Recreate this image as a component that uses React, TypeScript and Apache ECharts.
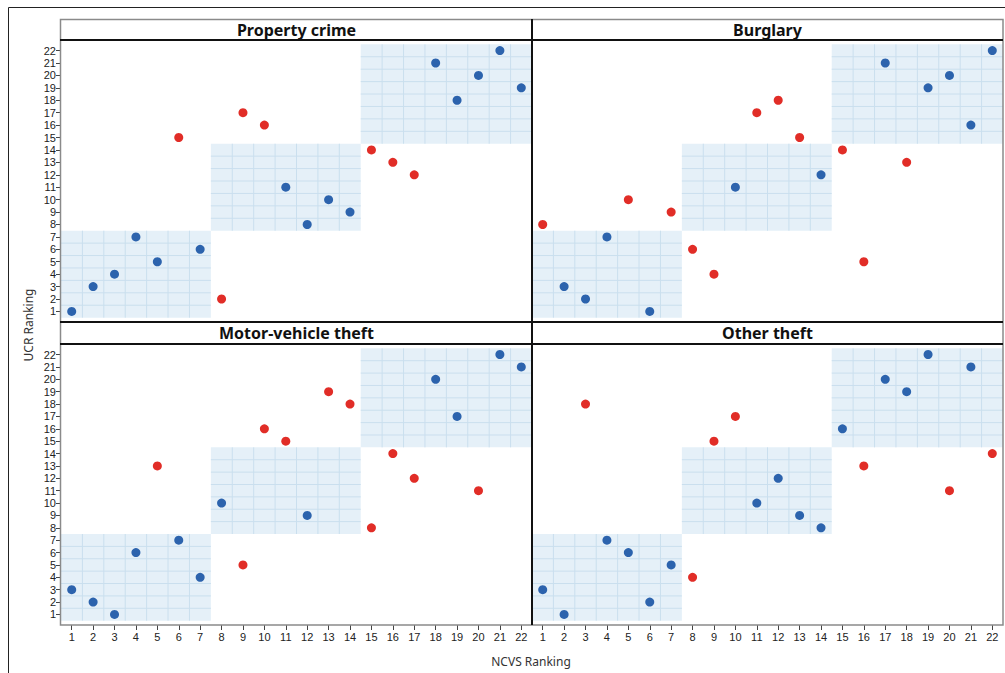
import React, { useEffect, useRef } from "react";
import * as echarts from "echarts";

// NCVS ranking (x) shared by every panel
const ncvsRanks = [1, 2, 3, 4, 5, 6, 7, 8, 9, 10, 11, 12, 13, 14, 15, 16, 17, 18, 19, 20, 21, 22];
const rankTicks = [1, 2, 3, 4, 5, 6, 7, 8, 9, 10, 11, 12, 13, 14, 15, 16, 17, 18, 19, 20, 21, 22];

// UCR ranking for each NCVS rank, one list per offence
const panelTitles = ["Property crime", "Burglary", "Motor-vehicle theft", "Other theft"];
const propertyUcr = [1, 3, 4, 7, 5, 15, 6, 2, 17, 16, 11, 8, 10, 9, 14, 13, 12, 21, 18, 20, 22, 19];
const burglaryUcr = [8, 3, 2, 7, 10, 1, 9, 6, 4, 11, 17, 18, 15, 12, 14, 5, 21, 13, 19, 20, 16, 22];
const motorVehicleUcr = [3, 2, 1, 6, 13, 7, 4, 10, 5, 16, 15, 9, 19, 18, 8, 14, 12, 20, 17, 11, 22, 21];
const otherTheftUcr = [3, 1, 18, 7, 6, 2, 5, 4, 15, 17, 10, 12, 9, 8, 16, 13, 20, 19, 22, 11, 21, 14];

// Rank groups (low / middle / high), drawn as shaded squares
const rankBlocks = [
  [0.5, 7.5],
  [7.5, 14.5],
  [14.5, 22.5],
];

const BLUE = "#2c63ad";
const RED = "#e12d27";
const FONT = "'Noto Sans', 'Open Sans', sans-serif";
const TICK_FONT = "'Liberation Sans', Arial, sans-serif";

const groupOf = (r: number) => rankBlocks.findIndex(([a, b]) => r > a && r < b);

function renderBlock(params: any, api: any) {
  const a = api.value(0);
  const b = api.value(1);
  const p0 = api.coord([a, a]);
  const p1 = api.coord([b, b]);
  const children: any[] = [
    {
      type: "rect",
      shape: { x: p0[0], y: p1[1], width: p1[0] - p0[0], height: p0[1] - p1[1] },
      style: { fill: "#e5f0f8" },
    },
  ];
  for (let v = a + 1; v < b; v += 1) {
    const px = api.coord([v, a])[0];
    const py = api.coord([a, v])[1];
    children.push({
      type: "line",
      shape: { x1: px, y1: p1[1], x2: px, y2: p0[1] },
      style: { stroke: "#cadfee", lineWidth: 1 },
    });
    children.push({
      type: "line",
      shape: { x1: p0[0], y1: py, x2: p1[0], y2: py },
      style: { stroke: "#cadfee", lineWidth: 1 },
    });
  }
  return { type: "group", children };
}

export default function App() {
  const ref = useRef<HTMLDivElement>(null);

  useEffect(() => {
    if (!ref.current) return;
    const chart = echarts.init(ref.current, undefined, { renderer: "svg" });

    const ucrLists = [propertyUcr, burglaryUcr, motorVehicleUcr, otherTheftUcr];
    const colLeft = [61, 532];
    const rowTop = [40, 344];
    const rowHeight = [282, 281];
    const panelWidth = 471;

    const grids: any[] = [];
    const xAxes: any[] = [];
    const yAxes: any[] = [];
    const series: any[] = [];

    ucrLists.forEach((ucr, i) => {
      const col = i % 2;
      const row = Math.floor(i / 2);
      grids.push({
        left: colLeft[col],
        top: rowTop[row],
        width: panelWidth,
        height: rowHeight[row],
        containLabel: false,
        outerBoundsMode: "none",
      });
      const showX = row === 1;
      const showY = col === 0;
      xAxes.push({
        type: "value",
        gridIndex: i,
        min: 0.5,
        max: 22.5,
        axisLine: { show: false },
        splitLine: { show: false },
        axisTick: {
          show: showX,
          customValues: rankTicks,
          length: 5,
          lineStyle: { color: "#444", width: 1 },
        },
        axisLabel: {
          show: showX,
          customValues: rankTicks,
          margin: 6,
          fontSize: 11,
          lineHeight: 12,
          color: "#222",
          fontFamily: TICK_FONT,
        },
      });
      yAxes.push({
        type: "value",
        gridIndex: i,
        min: 0.15,
        max: 22.85,
        axisLine: { show: false },
        splitLine: { show: false },
        axisTick: {
          show: showY,
          customValues: rankTicks,
          length: 5,
          lineStyle: { color: "#444", width: 1 },
        },
        axisLabel: {
          show: showY,
          customValues: rankTicks,
          margin: 5,
          fontSize: 11,
          lineHeight: 12,
          color: "#222",
          fontFamily: TICK_FONT,
        },
      });

      series.push({
        type: "custom",
        xAxisIndex: i,
        yAxisIndex: i,
        data: rankBlocks,
        renderItem: renderBlock,
        silent: true,
        z: 1,
      });

      const points = ncvsRanks.map((x, k) => [x, ucr[k]]);
      series.push({
        type: "scatter",
        name: "Same group",
        xAxisIndex: i,
        yAxisIndex: i,
        symbolSize: 9,
        itemStyle: { color: BLUE, opacity: 1 },
        data: points.filter(([x, y]) => groupOf(x) === groupOf(y)),
        z: 3,
      });
      series.push({
        type: "scatter",
        name: "Different group",
        xAxisIndex: i,
        yAxisIndex: i,
        symbolSize: 9,
        itemStyle: { color: RED, opacity: 1 },
        data: points.filter(([x, y]) => groupOf(x) !== groupOf(y)),
        z: 3,
      });
    });

    const headerY = [29.5, 333];
    const graphic: any[] = [
      // outer frame
      {
        type: "rect",
        shape: { x: 8.5, y: 7.5, width: 1010, height: 680 },
        style: { fill: "none", stroke: "#222", lineWidth: 1 },
        z: 10,
      },
      // panel frame
      {
        type: "rect",
        shape: { x: 60.5, y: 19.5, width: 942.5, height: 605.5 },
        style: { fill: "none", stroke: "#8a8a8a", lineWidth: 1.5 },
        z: 10,
      },
      // header separators
      {
        type: "line",
        shape: { x1: 60, y1: 40, x2: 1003, y2: 40 },
        style: { stroke: "#111", lineWidth: 2 },
        z: 11,
      },
      {
        type: "line",
        shape: { x1: 60, y1: 322, x2: 1003, y2: 322 },
        style: { stroke: "#111", lineWidth: 2 },
        z: 11,
      },
      {
        type: "line",
        shape: { x1: 60, y1: 344, x2: 1003, y2: 344 },
        style: { stroke: "#111", lineWidth: 2 },
        z: 11,
      },
      {
        type: "line",
        shape: { x1: 532, y1: 19, x2: 532, y2: 625 },
        style: { stroke: "#111", lineWidth: 2 },
        z: 11,
      },
      // axis titles
      {
        type: "text",
        x: 28,
        y: 325,
        rotation: Math.PI / 2,
        style: {
          text: "UCR Ranking",
          fontSize: 12,
          fontFamily: FONT,
          fill: "#333",
          align: "center",
          verticalAlign: "middle",
        },
        z: 11,
      },
      {
        type: "text",
        x: 531,
        y: 661,
        style: {
          text: "NCVS Ranking",
          fontSize: 12,
          fontFamily: FONT,
          fill: "#333",
          align: "center",
          verticalAlign: "middle",
        },
        z: 11,
      },
    ];

    panelTitles.forEach((title, i) => {
      const col = i % 2;
      const row = Math.floor(i / 2);
      graphic.push({
        type: "text",
        x: colLeft[col] + panelWidth / 2,
        y: headerY[row],
        style: {
          text: title,
          fontSize: 16,
          fontWeight: "bold",
          fontFamily: FONT,
          fill: "#111",
          align: "center",
          verticalAlign: "middle",
        },
        z: 11,
      });
    });

    chart.setOption({
      animation: false,
      backgroundColor: "#ffffff",
      grid: grids,
      xAxis: xAxes,
      yAxis: yAxes,
      series,
      graphic,
    });

    return () => chart.dispose();
  }, []);

  return (
    <div
      ref={ref}
      style={{ position: "fixed", left: 0, top: 0, width: 1005, height: 673, background: "#fff" }}
    />
  );
}
